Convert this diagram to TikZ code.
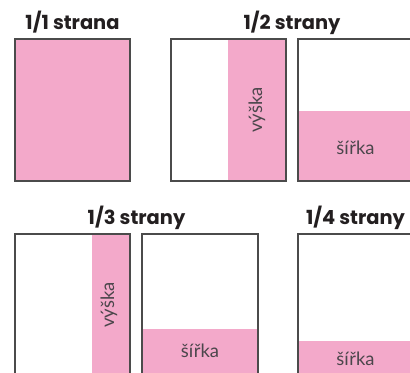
\documentclass[tikz,border=0pt]{standalone}
\usepackage{fontspec}
\setmainfont{Poppins}
\newfontfamily\lblfont{Lato}
\definecolor{pinkfill}{RGB}{243,169,202}
\definecolor{frame}{RGB}{75,75,75}
\definecolor{lbltext}{RGB}{75,70,75}
\definecolor{titletext}{RGB}{35,31,32}
\tikzset{
  page/.style={draw=frame, line width=1.2bp},
  band/.style={fill=pinkfill},
  title/.style={anchor=base, font=\fontsize{19.5}{22}\selectfont\bfseries, text=titletext, inner sep=0},
  lbl/.style={font=\lblfont\fontsize{18.5}{20}\selectfont, text=lbltext, inner sep=0}
}
\begin{document}
\begin{tikzpicture}[x=1bp,y=1bp]
\useasboundingbox (0,0) rectangle (410,373);
\clip (0,0) rectangle (410,373);
% top row
\fill[band] (15,192) rectangle (130,334);
\draw[page] (15,192) rectangle (130,334);
\fill[band] (228,192) rectangle (286,334);
\draw[page] (171,192) rectangle (286,334);
\fill[band] (298,192) rectangle (413,262);
\draw[page] (298,192) rectangle (413,334);
% bottom row
\fill[band] (92,-3) rectangle (130,139);
\draw[page] (15,-3) rectangle (130,139);
\fill[band] (142,-3) rectangle (258,44);
\draw[page] (142,-3) rectangle (258,139);
\fill[band] (298,-3) rectangle (413,32);
\draw[page] (298,-3) rectangle (413,139);
% titles
\node[title] (t1) at (72.5,344) {1/1 strana};
\node[title] (t2) at (292,344) {1/2 strany};
\node[title] (t3) at (136.5,149) {1/3 strany};
\node[title] (t4) at (355.5,149) {1/4 strany};
% labels
\node[lbl, rotate=90] (v1) at (257,263) {výška};
\node[lbl] (s1) at (355.5,225) {šířka};
\node[lbl, rotate=90] (v2) at (109,68) {výška};
\node[lbl] (s2) at (200,22) {šířka};
\node[lbl] (s3) at (355.5,14) {šířka};
\end{tikzpicture}
\end{document}
